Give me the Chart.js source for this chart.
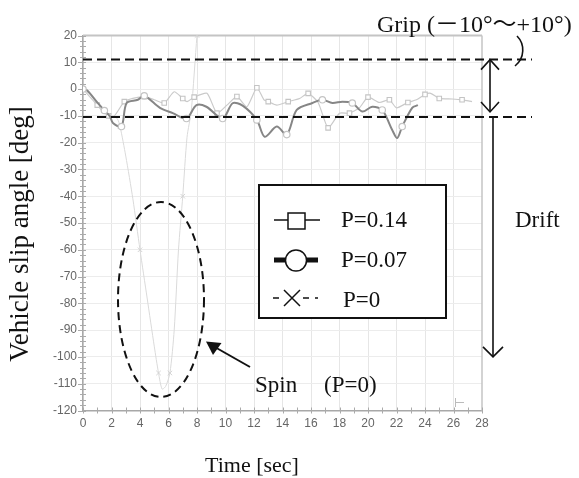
<!DOCTYPE html>
<html><head><meta charset="utf-8">
<script src="https://cdn.jsdelivr.net/npm/chart.js@4/dist/chart.umd.min.js"></script>
<style>html,body{margin:0;padding:0;background:#fff;}</style>
</head><body>
<canvas id="c" width="579" height="478"></canvas>
<script>
// ---- data ----
const timeP007 = [0,0.3,1,1.5,1.9,2.1,2.7,3.06,3.85,4.3,5.4,6.3,7.26,7.96,8.66,9.8,10.5,11.2,12.2,12.75,13.6,14.3,15.0,16.1,16.8,17.5,18.2,18.9,19.6,20.3,21,21.7,22.05,22.4,23.1,23.5];
const slipP007 = [0,-0.5,-5,-8,-10.3,-12.7,-14,-5.2,-4,-2.5,-7,-9,-11,-6,-6.6,-11,-5.3,-6.2,-11.5,-17.8,-14,-17,-7.8,-5.2,-4,-5.2,-4.7,-5.2,-8.4,-6.6,-7.8,-15.3,-18.3,-14,-7,-6];
const timeP014 = [0,0.5,1,1.3,1.8,2.2,2.9,3.5,4.3,5,5.7,6.4,7.0,7.3,7.8,8.7,9.4,10.1,10.8,11.5,12.2,12.7,13,13.6,14.4,15.2,15.8,16.5,17.2,18,18.7,19.4,20,20.8,21.5,22,22.8,23.4,24,24.4,25,25.9,26.6,27.3];
const slipP014 = [0,-3,-6,-7.8,-10,-10,-4.7,-3.5,-2.8,-4,-5.2,-1,-3.5,-4.7,-3,-1.6,-9,-6,-2.8,-6.6,0.5,-4,-4.7,-6,-4.7,-3.5,-1.6,-5,-14.5,-9,-9,-7,-3,-5,-4,-7,-5,-4,-2,-1.6,-3.5,-3.7,-4,-4.7];
const timeP0 = [0,0.5,1,1.5,2,2.4,2.6,3.0,3.5,4.0,4.5,5.0,5.3,5.55,5.8,6.1,6.4,6.7,7.0,7.3,7.6,8.0,8.2];
const slipP0 = [0,-2,-5,-8,-10,-11,-14,-25,-41,-60,-78,-96,-106,-112,-111,-106,-90,-60,-40,-18,-8,20,30];
const xTicks = [0,2,4,6,8,10,12,14,16,18,20,22,24,26,28];
const yTicks = [20,10,0,-10,-20,-30,-40,-50,-60,-70,-80,-90,-100,-110,-120];
const seriesLabels = ['P=0.14','P=0.07','P=0'];
const gripLimits = [11, -10.4];
const driftEnd = -100;

const toXY = (xs, ys) => xs.map((x, i) => ({x, y: ys[i]}));

const serif = '"Liberation Serif", "Times New Roman", serif';
const cjkSerif = '"Liberation Serif", "Noto Sans CJK JP", serif';

const annot = {
  id: 'annot',
  beforeDatasetsDraw(chart) {
    const ctx = chart.ctx, xs = chart.scales.x, ys = chart.scales.y, a = chart.chartArea;
    ctx.save();
    ctx.strokeStyle = '#c4c4c4'; ctx.lineWidth = 2;
    ctx.beginPath(); ctx.moveTo(a.left, a.top); ctx.lineTo(a.right, a.top); ctx.stroke();
    ctx.lineWidth = 1.5;
    ctx.beginPath(); ctx.moveTo(a.right, a.top); ctx.lineTo(a.right, a.bottom); ctx.stroke();
    ctx.strokeStyle = '#aaa'; ctx.lineWidth = 1;
    for (let v = -120; v <= 20; v += 2) {
      const y = Math.round(ys.getPixelForValue(v)) + 0.5;
      const major = v % 10 === 0;
      ctx.beginPath(); ctx.moveTo(a.left - (major ? 5 : 3), y); ctx.lineTo(a.left + 3, y); ctx.stroke();
    }
    for (let v = 0; v <= 28; v += 1) {
      const x = Math.round(xs.getPixelForValue(v)) + 0.5;
      ctx.beginPath(); ctx.moveTo(x, a.bottom - 3); ctx.lineTo(x, a.bottom + 3); ctx.stroke();
    }
    ctx.restore();
  },
  afterDraw(chart) {
    const ctx = chart.ctx, xs = chart.scales.x, ys = chart.scales.y, a = chart.chartArea;
    ctx.save();
    ctx.strokeStyle = '#111'; ctx.fillStyle = '#111';
    ctx.lineWidth = 2; ctx.setLineDash([9, 5]);
    gripLimits.forEach(v => {
      const y = ys.getPixelForValue(v);
      ctx.beginPath(); ctx.moveTo(a.left, y); ctx.lineTo(532, y); ctx.stroke();
    });
    ctx.setLineDash([]);
    const yHi = ys.getPixelForValue(gripLimits[0]);
    const yLo = ys.getPixelForValue(gripLimits[1]);
    ctx.lineWidth = 1.6;
    ctx.beginPath(); ctx.moveTo(490, yHi); ctx.lineTo(490, yLo - 5); ctx.stroke();
    ctx.beginPath(); ctx.moveTo(481, yHi + 10); ctx.lineTo(490, yHi); ctx.lineTo(499, yHi + 10); ctx.stroke();
    ctx.beginPath(); ctx.moveTo(481, yLo - 15); ctx.lineTo(490, yLo - 5); ctx.lineTo(499, yLo - 15); ctx.stroke();
    const yD = ys.getPixelForValue(driftEnd);
    ctx.beginPath(); ctx.moveTo(493, yLo); ctx.lineTo(493, yD); ctx.stroke();
    ctx.beginPath(); ctx.moveTo(483, yD - 10); ctx.lineTo(493, yD); ctx.lineTo(503, yD - 10); ctx.stroke();
    ctx.beginPath(); ctx.moveTo(517, 36); ctx.bezierCurveTo(525, 44, 525, 58, 515, 66); ctx.stroke();
    ctx.lineWidth = 2; ctx.setLineDash([8, 5]);
    ctx.beginPath(); ctx.ellipse(161, 299.5, 43, 97.5, 0, 0, Math.PI * 2); ctx.stroke();
    ctx.setLineDash([]);
    ctx.beginPath(); ctx.moveTo(250, 367); ctx.lineTo(213, 346); ctx.stroke();
    ctx.beginPath(); ctx.moveTo(206, 341.5); ctx.lineTo(221.5, 343); ctx.lineTo(213, 355); ctx.closePath(); ctx.fill();
    ctx.strokeStyle = '#bbb'; ctx.lineWidth = 1;
    ctx.beginPath(); ctx.moveTo(455.5, 398); ctx.lineTo(455.5, 407); ctx.moveTo(455.5, 402.5); ctx.lineTo(464, 402.5); ctx.stroke();
    // legend box
    ctx.strokeStyle = '#111'; ctx.fillStyle = '#fff'; ctx.lineWidth = 2;
    ctx.fillRect(259, 185, 187, 133);
    ctx.strokeRect(259, 185, 187, 133);
    ctx.lineWidth = 1.5;
    ctx.beginPath(); ctx.moveTo(274, 220); ctx.lineTo(320, 220); ctx.stroke();
    ctx.fillStyle = '#fff'; ctx.fillRect(288, 213, 17, 16); ctx.strokeRect(288, 213, 17, 16);
    ctx.lineWidth = 5;
    ctx.beginPath(); ctx.moveTo(274, 260); ctx.lineTo(318, 260); ctx.stroke();
    ctx.lineWidth = 1.5;
    ctx.beginPath(); ctx.arc(296, 260.5, 10.5, 0, Math.PI * 2); ctx.fill(); ctx.stroke();
    ctx.beginPath(); ctx.moveTo(273, 298); ctx.lineTo(279, 298); ctx.moveTo(303, 298); ctx.lineTo(309, 298); ctx.moveTo(315, 298); ctx.lineTo(318, 298); ctx.stroke();
    ctx.beginPath(); ctx.moveTo(284, 290); ctx.lineTo(300, 306); ctx.moveTo(300, 290); ctx.lineTo(284, 306); ctx.stroke();
    // texts
    ctx.fillStyle = '#111';
    ctx.font = '23px ' + serif; ctx.textBaseline = 'alphabetic'; ctx.textAlign = 'left';
    ctx.fillText(seriesLabels[0], 341, 227);
    ctx.fillText(seriesLabels[1], 341, 267);
    ctx.fillText(seriesLabels[2], 343, 307);
    ctx.fillText('Drift', 515, 227);
    ctx.fillText('Spin', 255, 392);
    ctx.fillText('(P=0)', 324, 392);
    ctx.font = '24px ' + cjkSerif;
    ctx.fillText('Grip (\uFF0D10°\uFF5E+10°)', 377, 32);
    ctx.font = '22px ' + serif;
    ctx.textAlign = 'center';
    ctx.fillText('Time [sec]', 252, 472);
    ctx.save();
    ctx.font = '27px ' + serif;
    ctx.translate(28, 234); ctx.rotate(-Math.PI / 2);
    ctx.fillText('Vehicle slip angle [deg]', 0, 0);
    ctx.restore();
    ctx.restore();
  }
};

const markEvery = n => c => (c.dataIndex % n === 0 ? 3.2 : 0);

new Chart(document.getElementById('c'), {
  type: 'line',
  data: {
    datasets: [
      { label: seriesLabels[1], data: toXY(timeP007, slipP007), borderColor: '#868686', borderWidth: 2,
        pointStyle: 'circle', pointRadius: markEvery(3), pointBorderColor: '#c4c4c4', pointBackgroundColor: '#fff', pointBorderWidth: 1.2, tension: 0.3 },
      { label: seriesLabels[0], data: toXY(timeP014, slipP014), borderColor: '#cacaca', borderWidth: 1.2,
        pointStyle: 'rect', pointRadius: markEvery(2), pointBorderColor: '#c4c4c4', pointBackgroundColor: '#fff', pointBorderWidth: 1.1, tension: 0.2 },
      { label: seriesLabels[2], data: toXY(timeP0, slipP0), borderColor: '#dadada', borderWidth: 1,
        pointStyle: 'crossRot', pointRadius: markEvery(3), pointBorderColor: '#d4d4d4', pointBorderWidth: 1, tension: 0.25 }
    ]
  },
  options: {
    responsive: false, animation: false,
    layout: { padding: { left: 0, top: 35.5, right: 97, bottom: 0 } },
    plugins: { legend: { display: false }, tooltip: { enabled: false } },
    scales: {
      x: {
        type: 'linear', min: 0, max: 28,
        afterBuildTicks: s => { s.ticks = xTicks.map(v => ({ value: v })); },
        afterFit: s => { s.height = 67.5; },
        ticks: { color: '#666', font: { family: '"Liberation Sans", Arial, sans-serif', size: 12 }, padding: 6, maxRotation: 0 },
        grid: { color: c => (c.tick && c.tick.value === 28 ? 'rgba(0,0,0,0)' : '#e6e6e6'), drawTicks: false },
        border: { color: '#a8a8a8', width: 1.5 }
      },
      y: {
        type: 'linear', min: -120, max: 20,
        afterBuildTicks: s => { s.ticks = yTicks.slice().reverse().map(v => ({ value: v })); },
        afterFit: s => { s.width = 83; },
        ticks: { color: '#666', font: { family: '"Liberation Sans", Arial, sans-serif', size: 12 }, padding: 6 },
        grid: { color: c => (c.tick && c.tick.value === 20 ? 'rgba(0,0,0,0)' : '#ececec'), drawTicks: false },
        border: { color: '#a8a8a8', width: 1.5 }
      }
    }
  },
  plugins: [annot]
});
</script>
</body></html>
